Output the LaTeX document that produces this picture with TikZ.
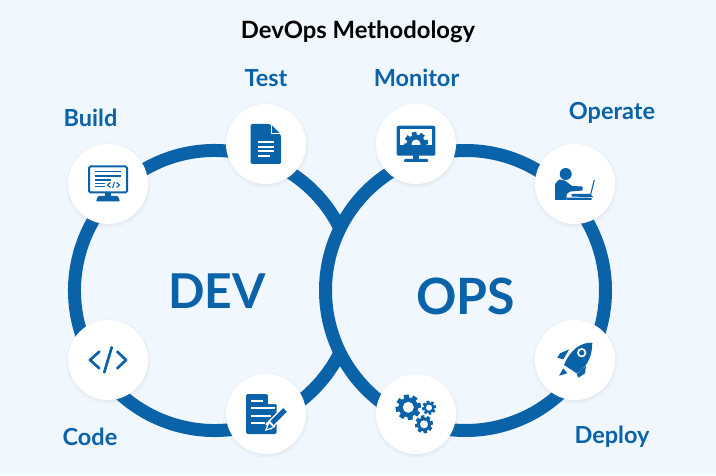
\documentclass[tikz,border=0pt]{standalone}
\usepackage{fontspec}
\setmainfont{Lato}
\usetikzlibrary{shadows, calc}
\definecolor{opsblue}{HTML}{0A62A9}
\definecolor{pagetint}{HTML}{F0F7FF}
\tikzset{
  ring/.style = {draw=opsblue, line width=13pt},
  station/.style = {circle, fill=white, minimum size=80pt, inner sep=0pt,
    circular drop shadow={shadow xshift=0pt, shadow yshift=-1pt, shadow scale=1.08, opacity=.15}},
  steplabel/.style = {text=opsblue, font=\fontsize{23.5}{26}\selectfont\bfseries},
  ringlabel/.style = {text=opsblue, font=\fontsize{48}{60}\selectfont\bfseries},
  icon/.style = {fill=opsblue, draw=none},
  iconline/.style = {draw=opsblue, line width=2pt},
  whiteline/.style = {draw=white, line width=1.7pt},
}
\newcommand{\gearicon}[4]{% x, y, radius, hole
  \fill[opsblue] (#1,#2) circle (#3*0.78pt);
  \foreach \a in {0,45,...,315}
    \fill[opsblue, shift={(#1,#2)}, rotate=\a+10] (-#3*0.2,#3*0.6) rectangle (#3*0.2,#3);
  \fill[white] (#1,#2) circle (#4 pt);
}
\begin{document}
\begin{tikzpicture}[x=1pt, y=1pt]
\useasboundingbox (0,0) rectangle (716,475);
\fill[pagetint] (0,0) rectangle (716,475);
% the two rings
\coordinate (devc) at (214.5,184.5);
\coordinate (opsc) at (465.5,184.5);
\draw[ring] ($(devc)+(26.3:140)$) arc [start angle=26.3, end angle=333.7, radius=140];
\draw[ring] (opsc) circle (140);
% stations
\node[station] (build) at (108,291) {};
\node[station] (test) at (266,331) {};
\node[station] (monitor) at (416,331) {};
\node[station] (operate) at (575,291) {};
\node[station] (code) at (108,115) {};
\node[station] (plan) at (266,61) {};
\node[station] (release) at (416,61) {};
\node[station] (deploy) at (575,115) {};
% texts
\node (title) at (358,443) {\fontsize{23.8}{26}\selectfont\bfseries DevOps Methodology};
\node[steplabel] (buildtext) at (90.5,357) {Build};
\node[steplabel] (testtext) at (266,397) {Test};
\node[steplabel] (monitortext) at (416.5,397) {Monitor};
\node[steplabel] (operatetext) at (612,362) {Operate};
\node[steplabel] (codetext) at (90,38) {Code};
\node[steplabel] (deploytext) at (612,38) {Deploy};
\node[ringlabel] (devtext) at (217,184) {DEV};
\node[ringlabel, font=\fontsize{50}{60}\selectfont\bfseries] (opstext) at (465.5,179) {OPS};
% build icon
\begin{scope}[shift={(build)}]
\draw[iconline, rounded corners=1.5pt] (-19,17.5) rectangle (19,-8.5);
\foreach \y in {12.3,8} \draw[opsblue, line width=1.2pt] (-13,\y) -- (13,\y);
\draw[opsblue, line width=1.2pt] (-13,4) -- (3,4);
\draw[opsblue, line width=1.2pt] (-13,.7) -- (-2.7,.7);
\draw[opsblue, line width=1.2pt] (-13,-2.7) -- (-2.7,-2.7);
\draw[opsblue, line width=1.1pt] (2.5,1.5) -- (-.5,-1) -- (2.5,-3.5) (6.5,2) -- (4.5,-4) (8.5,1.5) -- (11.5,-1) -- (8.5,-3.5);
\fill[icon] (-3,-9) rectangle (3,-12);
\fill[icon, rounded corners=1pt] (-12,-17.5) -- (-10,-12) -- (10,-12) -- (12,-17.5) -- cycle;
\end{scope}
% test icon
\begin{scope}[shift={(test)}]
\fill[icon, rounded corners=1.5pt] (-15.3,20) -- (4,20) -- (15,9) -- (15,-20) -- (-15.3,-20) -- cycle;
\fill[white] (5,20) -- (5,10) -- (15,10) -- cycle;
\fill[icon] (6,18.5) -- (6,11) -- (13.5,11) -- cycle;
\foreach \y in {2.3,-2.7,-7,-11.7} \draw[whiteline] (-7.7,\y) -- (8,\y);
\fill[icon] (3.5,-10.5) rectangle (9,-13);
\end{scope}
% monitor icon
\begin{scope}[shift={(monitor)}]
\fill[icon, rounded corners=2pt] (-19.3,18.3) rectangle (19.3,-11.7);
\fill[white] (-15.7,15) rectangle (15.7,-1);
\begin{scope}
\clip (-15.7,15) rectangle (15.7,-1);
\gearicon{0}{0}{12}{4.5}
\end{scope}
\fill[icon] (-3,-11) rectangle (3,-15);
\fill[icon, rounded corners=1pt] (-12,-15) rectangle (12,-18);
\end{scope}
% operate icon
\begin{scope}[shift={(operate)}]
\fill[icon] (-9.3,10) circle (6);
\fill[icon, rounded corners=.7pt] (-20,-16) -- (-20,0) -- (-16,4.5) -- (-10,3.5) -- (-3,-2) -- (7.5,-2.5) -- (7.5,-6.5) -- (-5,-7.5) -- (-8.3,-10) -- (-8.3,-16) -- cycle;
\draw[opsblue, line width=1.1pt] (19.3,4) -- (15.5,-11);
\fill[icon] (-3.3,-10) -- (15,-10) -- (18.3,-13.3) -- (-3.3,-12.5) -- cycle;
\fill[icon] (-8.3,-13.5) -- (16.7,-13.8) -- (16.7,-15.8) -- (-8.3,-16) -- cycle;
\end{scope}
% code icon
\begin{scope}[shift={(code)}]
\draw[opsblue, line width=2.7pt, line cap=round, line join=round] (-8.7,8.3) -- (-18,0) -- (-8.7,-8.3);
\draw[opsblue, line width=2.7pt, line cap=round] (3.7,12.7) -- (-3.7,-12.3);
\draw[opsblue, line width=2.7pt, line cap=round, line join=round] (9.3,8.3) -- (18,0) -- (9.3,-8.3);
\end{scope}
% plan icon
\begin{scope}[shift={(plan)}]
\fill[icon, rounded corners=1.5pt] (-20,20) -- (1,20) -- (10.7,10) -- (10.7,-20) -- (-20,-20) -- cycle;
\fill[white] (2,20) -- (2,10) -- (11,10) -- cycle;
\foreach \y/\x in {13.3/-3.3,5.7/9,-2/5,-9.3/-1.5} \draw[whiteline] (-15.5,\y) -- (\x,\y);
\draw[white, line width=8pt] (19,4) -- (2,-13);
\draw[opsblue, line width=5pt] (19,4) -- (5,-10);
\fill[white] (3,-6) -- (-1,-17) -- (9.5,-13) -- cycle;
\fill[icon] (1,-15) -- (3.3,-9.5) -- (6.8,-13) -- cycle;
\end{scope}
% release icon
\begin{scope}[shift={(release)}]
\gearicon{-7.7}{6.7}{12.7}{5.5}
\gearicon{13}{6.3}{7}{3}
\gearicon{8}{-10.3}{9}{4}
\end{scope}
% deploy icon
\begin{scope}[shift={(deploy)}]
\fill[icon] (17.3,17.3) .. controls (6,18) and (-5,10) .. (-11,-5) -- (1.7,-13.3) .. controls (10,-8) and (17,0) .. cycle;
\fill[white] (6.7,7.3) circle (4.7);
\fill[icon] (6.7,7.3) circle (2.7);
\fill[icon] (-5.7,10.7) -- (-15,6.7) -- (-17.7,2.3) -- (-11.7,.7) -- cycle;
\fill[icon] (11,-6) -- (10,-13.3) -- (3.3,-17.7) -- (1.7,-14) -- cycle;
\fill[icon] (-11.7,-8.3) -- (-16,-15.7) -- (-7.7,-13.3) -- cycle;
\end{scope}
\end{tikzpicture}
\end{document}
